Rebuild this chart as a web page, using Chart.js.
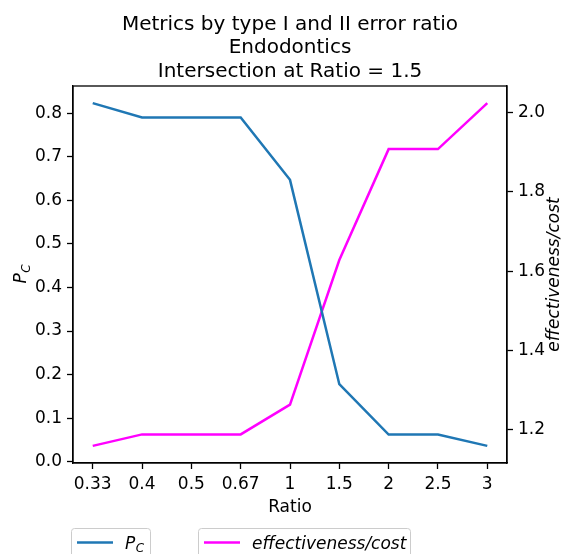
<!DOCTYPE html>
<html><head><meta charset="utf-8">
<script src="https://cdn.jsdelivr.net/npm/chart.js@4/dist/chart.umd.min.js"></script>
<style>html,body{margin:0;padding:0;background:#fff}</style>
</head><body>
<canvas id="c" width="567" height="554"></canvas>
<script>
const ratioLabels = ['0.33','0.4','0.5','0.67','1','1.5','2','2.5','3'];
const pcValues = [0.823, 0.790, 0.790, 0.790, 0.647, 0.178, 0.0625, 0.0625, 0.0366];
const ecValues = [1.159, 1.188, 1.188, 1.188, 1.263, 1.628, 1.908, 1.908, 2.024];
const titleLines = ['Metrics by type I and II error ratio', 'Endodontics', 'Intersection at Ratio = 1.5'];
const leftTicks = [0.0, 0.1, 0.2, 0.3, 0.4, 0.5, 0.6, 0.7, 0.8];
const rightTicks = [1.2, 1.4, 1.6, 1.8, 2.0];
const xAxisTitle = 'Ratio';
const rightAxisTitle = 'effectiveness/cost';

const FONT = "'DejaVu Sans', sans-serif";
const BLUE = '#1f77b4', MAGENTA = '#ff00ff';

function drawPC(ctx, x, y, size) {
  ctx.font = 'italic ' + size + 'px ' + FONT;
  ctx.textBaseline = 'alphabetic';
  ctx.textAlign = 'left';
  ctx.fillText('P', x, y);
  const w = ctx.measureText('P').width;
  ctx.font = 'italic ' + Math.round(size * 0.7) + 'px ' + FONT;
  ctx.fillText('C', x + w + 0.5, y + size * 0.22);
}

const deco = {
  id: 'deco',
  afterDatasetsDraw(chart) {
    const ctx = chart.ctx, a = chart.chartArea;
    ctx.save();
    ctx.strokeStyle = '#000'; ctx.lineWidth = 1.3;
    ctx.strokeRect(a.left, a.top, a.right - a.left, a.bottom - a.top);
    ctx.restore();
  },
  afterDraw(chart) {
    const ctx = chart.ctx, a = chart.chartArea;
    const cx = (a.left + a.right) / 2, cy = (a.top + a.bottom) / 2;
    ctx.save();
    ctx.fillStyle = '#000';
    // title
    ctx.font = '20px ' + FONT;
    ctx.textAlign = 'center'; ctx.textBaseline = 'alphabetic';
    const bl = [29.5, 53, 76.5];
    titleLines.forEach((t, i) => ctx.fillText(t, cx, bl[i]));
    // x title
    ctx.font = '17px ' + FONT;
    ctx.fillText(xAxisTitle, cx, 512);
    // left y title P_C
    ctx.save();
    ctx.translate(26, cy + 9);
    ctx.rotate(-Math.PI / 2);
    drawPC(ctx, 0, 0, 17);
    ctx.restore();
    // right y title
    ctx.save();
    ctx.translate(555, cy);
    ctx.rotate(-Math.PI / 2);
    ctx.font = 'italic 17px ' + FONT;
    ctx.textAlign = 'center'; ctx.textBaseline = 'middle';
    ctx.fillText(rightAxisTitle, 0, 0);
    ctx.restore();
    // legends
    function box(x0, x1) {
      const y0 = 528.5, y1 = 570, r = 3;
      ctx.beginPath();
      ctx.moveTo(x0 + r, y0); ctx.lineTo(x1 - r, y0); ctx.quadraticCurveTo(x1, y0, x1, y0 + r);
      ctx.lineTo(x1, y1); ctx.lineTo(x0, y1); ctx.lineTo(x0, y0 + r); ctx.quadraticCurveTo(x0, y0, x0 + r, y0);
      ctx.closePath();
      ctx.fillStyle = 'rgba(255,255,255,0.8)'; ctx.fill();
      ctx.strokeStyle = '#cccccc'; ctx.lineWidth = 1; ctx.stroke();
    }
    const ly = 542.5;
    box(71.5, 150.5);
    ctx.strokeStyle = BLUE; ctx.lineWidth = 2.5;
    ctx.beginPath(); ctx.moveTo(77, ly); ctx.lineTo(113, ly); ctx.stroke();
    ctx.fillStyle = '#000';
    drawPC(ctx, 125, ly + 6, 17);
    box(198.5, 410.5);
    ctx.strokeStyle = MAGENTA; ctx.lineWidth = 2.5;
    ctx.beginPath(); ctx.moveTo(204, ly); ctx.lineTo(240, ly); ctx.stroke();
    ctx.fillStyle = '#000';
    ctx.font = 'italic 17px ' + FONT; ctx.textAlign = 'left'; ctx.textBaseline = 'alphabetic';
    ctx.fillText(rightAxisTitle, 252, ly + 6);
    ctx.restore();
  }
};

const tickCommon = { color: '#000', font: { family: FONT, size: 17 }, padding: 5 };
const gridCommon = { drawOnChartArea: false, drawTicks: true, tickLength: 6, tickColor: '#000', tickWidth: 1.3 };
const borderCommon = { display: true, color: '#000', width: 1.3 };

new Chart(document.getElementById('c'), {
  type: 'line',
  data: {
    datasets: [
      { label: 'P_C', data: pcValues.map((v, i) => ({ x: i, y: v })), yAxisID: 'y',
        borderColor: BLUE, backgroundColor: BLUE, borderWidth: 2.5, pointRadius: 0, tension: 0, fill: false },
      { label: 'effectiveness/cost', data: ecValues.map((v, i) => ({ x: i, y: v })), yAxisID: 'y1',
        borderColor: MAGENTA, backgroundColor: MAGENTA, borderWidth: 2.5, pointRadius: 0, tension: 0, fill: false }
    ]
  },
  options: {
    responsive: false, animation: false, devicePixelRatio: 1,
    layout: { padding: { top: 86, left: 0, right: 0, bottom: 0 } },
    plugins: { legend: { display: false }, title: { display: false }, tooltip: { enabled: false } },
    scales: {
      x: {
        type: 'linear', min: -0.4, max: 8.4,
        afterBuildTicks: s => { s.ticks = ratioLabels.map((_, i) => ({ value: i })); },
        ticks: Object.assign({}, tickCommon, { maxRotation: 0, autoSkip: false, callback: v => ratioLabels[v] }),
        grid: gridCommon, border: borderCommon,
        afterFit: s => { s.height = 91; }
      },
      y: {
        type: 'linear', position: 'left', min: -0.0027, max: 0.8623,
        afterBuildTicks: s => { s.ticks = leftTicks.map(v => ({ value: v })); },
        ticks: Object.assign({}, tickCommon, { callback: v => v.toFixed(1) }),
        grid: gridCommon, border: borderCommon,
        afterFit: s => { s.width = 73; }
      },
      y1: {
        type: 'linear', position: 'right', min: 1.1158, max: 2.0673,
        afterBuildTicks: s => { s.ticks = rightTicks.map(v => ({ value: v })); },
        ticks: Object.assign({}, tickCommon, { callback: v => v.toFixed(1) }),
        grid: gridCommon, border: borderCommon,
        afterFit: s => { s.width = 60; }
      }
    }
  },
  plugins: [deco]
});
</script>
</body></html>
